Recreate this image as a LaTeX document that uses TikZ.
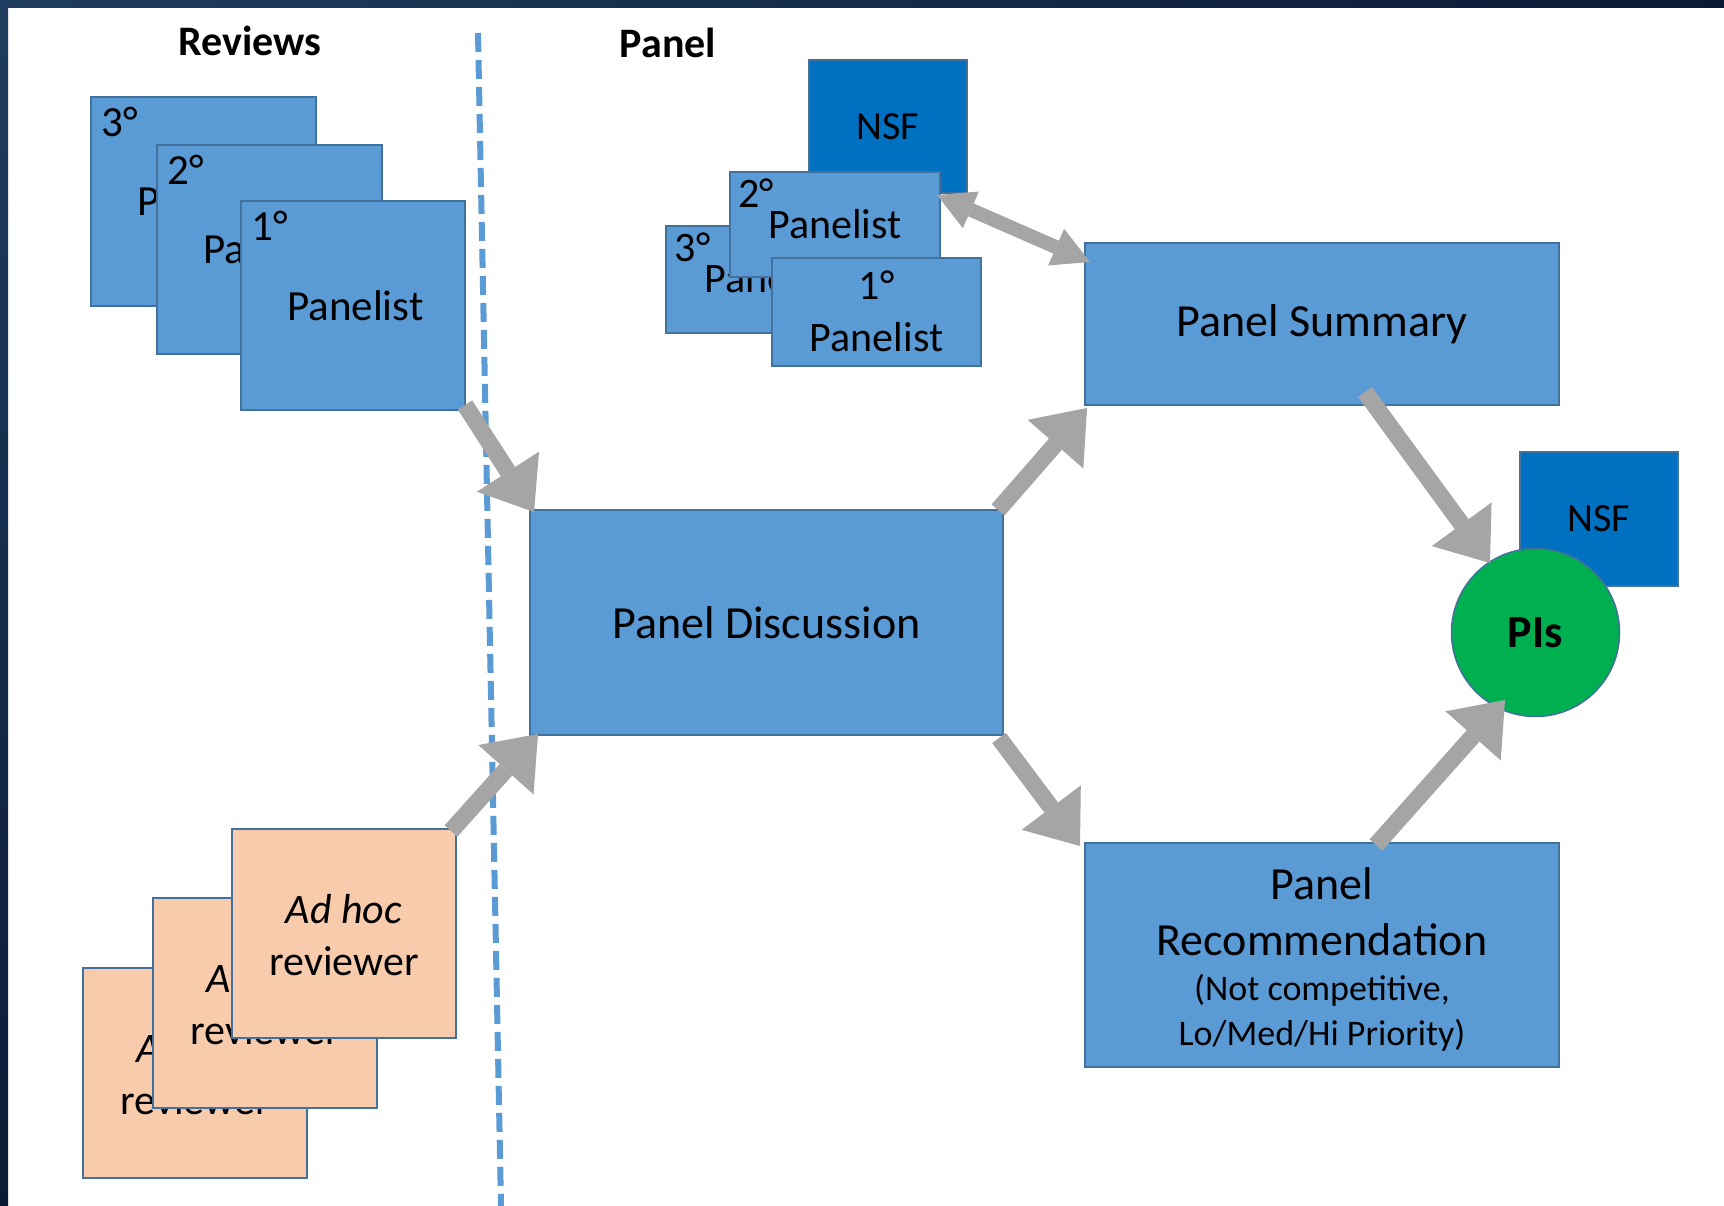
\documentclass[tikz,border=0pt]{standalone}
\usepackage{fontspec}
\setmainfont{Carlito}
\usetikzlibrary{arrows.meta,calc}
\definecolor{boxblue}{HTML}{5B9BD5}
\definecolor{edgeblue}{HTML}{41719C}
\definecolor{nsfblue}{HTML}{0070C0}
\definecolor{peach}{HTML}{F8CBAD}
\definecolor{pigreen}{HTML}{00B050}
\definecolor{arrowgray}{HTML}{A5A5A5}
\definecolor{navyA}{HTML}{1F3D5E}
\definecolor{navyB}{HTML}{0A1A36}
\newcommand\fsz[1]{\fontsize{#1pt}{#1pt}\selectfont}
\begin{document}
\begin{tikzpicture}[x=1pt,y=-1pt,
  card/.style={draw=edgeblue, line width=1.8pt, inner sep=0pt, outer sep=0pt, anchor=north west},
  bluecard/.style={card, fill=boxblue},
  peachcard/.style={card, fill=peach},
  nsfcard/.style={card, fill=nsfblue, font=\fsz{40}},
  wh/.style 2 args={minimum width=#1pt, minimum height=#2pt},
  lbl/.style={inner sep=0pt, anchor=base, font=\fsz{43}},
  lblw/.style={inner sep=0pt, anchor=base west, font=\fsz{43}},
  head/.style={inner sep=0pt, anchor=base, font=\bfseries\fsz{42}},
  flow/.style={draw=arrowgray, line width=17pt, -{Triangle[length=48pt,width=74pt,line width=0pt]}},
  twoway/.style={draw=arrowgray, line width=14pt, {Triangle[length=37pt,width=40pt,line width=0pt]}-{Triangle[length=37pt,width=40pt,line width=0pt]}},
  divider/.style={draw=boxblue, line width=6pt, dash pattern=on 19pt off 8pt},
]
% background and frame
\fill[white] (0,0) rectangle (1724,1206);
\useasboundingbox (0,0) rectangle (1724,1206);
\shade[left color=navyA, right color=navyB] (0,0) rectangle (1724,8);
\shade[top color=navyA, bottom color=navyB] (0,0) rectangle (8,1206);

% divider
\coordinate (dtop) at (478,33);
\coordinate (dbot) at (501,1206);
\draw[divider] (dtop) -- (dbot);

% headings
\node[head] (hrev) at (250,56) {Reviews};
\node[head] (hpan) at (668,58) {Panel};

% reviews stack
\node[bluecard, wh={225}{209}] (r3) at (91,97) {};
\node[lblw] (r3a) at ($(r3.north west)+(10,40)$) {3°};
\node[lblw] (r3b) at ($(r3.north west)+(46,119)$) {Panelist};
\node[bluecard, wh={225}{209}] (r2) at (157,145) {};
\node[lblw] (r2a) at ($(r2.north west)+(10,40)$) {2°};
\node[lblw] (r2b) at ($(r2.north west)+(46,119)$) {Panelist};
\node[bluecard, wh={224}{209}] (r1) at (241,201) {};
\node[lblw] (r1a) at ($(r1.north west)+(10,40)$) {1°};
\node[lblw] (r1b) at ($(r1.north west)+(46,119)$) {Panelist};

% panel stack
\node[nsfcard, wh={158}{133}] (nsfa) at (809,60) {NSF};
\node[bluecard, wh={210}{107}] (p3) at (666,226) {};
\node[lblw, font=\fsz{42}] (p3a) at ($(p3.north west)+(8.6,36)$) {3°};
\node[lbl, font=\fsz{42}] (p3b) at ($(p3.north)+(0,67)$) {Panelist};
\node[bluecard, wh={210}{105}] (p2) at (730,172) {};
\node[lblw, font=\fsz{42}] (p2a) at ($(p2.north west)+(8,36)$) {2°};
\node[lbl, font=\fsz{42}] (p2b) at ($(p2.north)+(0,67)$) {Panelist};
\node[bluecard, wh={209}{108}] (p1) at (772,258) {};
\node[lbl, font=\fsz{42}] (p1a) at ($(p1.north)+(0,42)$) {1°};
\node[lbl, font=\fsz{42}] (p1b) at ($(p1.north)+(0,94)$) {Panelist};

% ad hoc stack
\node[peachcard, wh={224}{210}] (a3) at (83,968) {};
\node[lbl, font=\fsz{42}] (a3a) at ($(a3.north)+(0,94)$) {\itshape Ad hoc};
\node[lbl, font=\fsz{42}] (a3b) at ($(a3.north)+(0,146)$) {reviewer};
\node[peachcard, wh={224}{210}] (a2) at (153,898) {};
\node[lbl, font=\fsz{42}] (a2a) at ($(a2.north)+(0,94)$) {\itshape Ad hoc};
\node[lbl, font=\fsz{42}] (a2b) at ($(a2.north)+(0,146)$) {reviewer};
\node[peachcard, wh={224}{209}] (a1) at (232,829) {};
\node[lbl, font=\fsz{42}] (a1a) at ($(a1.north)+(0,94)$) {\itshape Ad hoc};
\node[lbl, font=\fsz{42}] (a1b) at ($(a1.north)+(0,146)$) {reviewer};

% main boxes
\node[bluecard, wh={473}{225}] (pd) at (530,510) {};
\node[lbl, font=\fsz{46}] (pdt) at ($(pd.north)+(0,128)$) {Panel Discussion};
\node[bluecard, wh={474}{162}] (ps) at (1085,243) {};
\node[lbl, font=\fsz{46}] (pst) at ($(ps.north)+(0,94)$) {Panel Summary};
\node[bluecard, wh={474}{224}] (pr) at (1085,843) {};
\node[lbl, font=\fsz{46}] (prt1) at ($(pr.north)+(0,56)$) {Panel};
\node[lbl, font=\fsz{46}] (prt2) at ($(pr.north)+(0,112)$) {Recommendation};
\node[lbl, font=\fsz{36}] (prt3) at ($(pr.north)+(0,157)$) {(Not competitive,};
\node[lbl, font=\fsz{36}] (prt4) at ($(pr.north)+(0,202)$) {Lo/Med/Hi Priority)};

% NSF and PIs
\node[nsfcard, wh={158}{134}] (nsfb) at (1520,452) {NSF};
\node[circle, draw=edgeblue, line width=1.5pt, fill=pigreen, minimum size=168pt, inner sep=0pt, font=\bfseries\fsz{46}] (pi) at (1535.5,632.5) {PIs};

% arrows
\draw[flow] ($(r1.south east)+(0,-5)$) -- ($(pd.north west)+(4,2)$);
\draw[flow] ($(a1.north east)+(-5,2)$) -- ($(pd.south west)+(8,-1)$);
\draw[flow] ($(pd.north east)+(-5,0)$) -- ($(ps.south west)+(2,3)$);
\draw[flow] ($(pd.south east)+(-4,3)$) -- ($(pr.north west)+(-5,3)$);
\draw[flow] ($(ps.south west)+(280,-13)$) -- ($(pi.center)+(-45.5,-69.5)$);
\draw[flow] ($(pr.north west)+(291,2)$) -- ($(pi.center)+(-30.5,67.5)$);
\draw[twoway] ($(p2.north east)+(-3,23)$) -- ($(ps.north west)+(5,19)$);
\end{tikzpicture}
\end{document}
